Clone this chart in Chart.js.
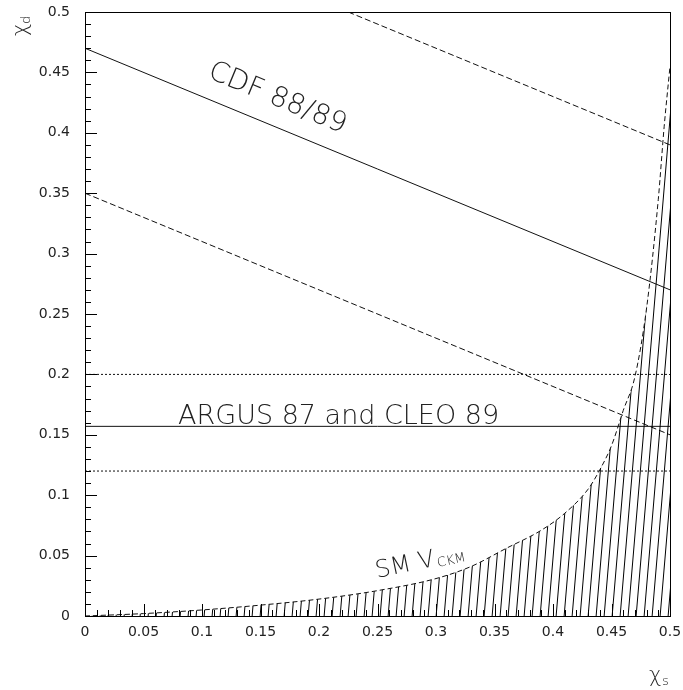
<!DOCTYPE html>
<html>
<head>
<meta charset="utf-8">
<script src="https://cdn.jsdelivr.net/npm/chart.js@4.4.1/dist/chart.umd.min.js"></script>
<style>
  html, body { margin: 0; padding: 0; background: #fff; }
  #wrap { width: 683px; height: 690px; }
</style>
</head>
<body>
<div id="wrap"><canvas id="chart" width="683" height="690"></canvas></div>
<script>
// tick values and labels
const xTickValues = [0, 0.05, 0.1, 0.15, 0.2, 0.25, 0.3, 0.35, 0.4, 0.45, 0.5]
const xTickLabels = ['0', '0.05', '0.1', '0.15', '0.2', '0.25', '0.3', '0.35', '0.4', '0.45', '0.5']
const yTickValues = [0, 0.05, 0.1, 0.15, 0.2, 0.25, 0.3, 0.35, 0.4, 0.45, 0.5]
const yTickLabels = ['0', '0.05', '0.1', '0.15', '0.2', '0.25', '0.3', '0.35', '0.4', '0.45', '0.5']

// SM V_CKM curve (chi_s, chi_d)
const smChiS = [0, 0.05, 0.1, 0.15, 0.2, 0.25, 0.3, 0.33, 0.36, 0.39, 0.41, 0.43, 0.44, 0.45, 0.46, 0.47, 0.48, 0.49, 0.495, 0.5]
const smChiD = [0, 0.002, 0.005, 0.009, 0.014, 0.021, 0.031, 0.041, 0.056, 0.071, 0.085, 0.105, 0.121, 0.141, 0.17, 0.198, 0.255, 0.345, 0.405, 0.455]

// CDF 88/89 band
const cdfChiS = [0, 0.5]
const cdfCentral = [0.47, 0.27]
const cdfLower = [0.35, 0.15]
const cdfUpperChiS = [0.225, 0.5]
const cdfUpper = [0.5, 0.39]

// ARGUS 87 and CLEO 89 band
const argusChiS = [0, 0.5]
const argusCentral = [0.157, 0.157]
const argusLower = [0.12, 0.12]
const argusUpper = [0.2, 0.2]

const ink = '#111'
const textInk = '#222'
const font = "'DejaVu Sans', sans-serif"

const pts = (xs, ys) => xs.map((x, i) => ({ x, y: ys[i] }))

function hatchPattern () {
  const w = 8
  const h = 95
  const c = document.createElement('canvas')
  c.width = w
  c.height = h
  const g = c.getContext('2d')
  g.strokeStyle = '#000'
  g.lineWidth = 1
  g.beginPath()
  for (let k = -1; k <= 1; k++) {
    g.moveTo(k * w - w, 2 * h)
    g.lineTo(k * w + 2 * w, -h)
  }
  g.stroke()
  return g.createPattern(c, 'repeat')
}

const frame = {
  id: 'frame',
  afterDraw (chart) {
    const { ctx, chartArea: a, scales: { x, y } } = chart
    ctx.save()
    ctx.strokeStyle = '#000'
    ctx.lineWidth = 1
    ctx.strokeRect(a.left + 0.5, a.top + 0.5, a.right - a.left, a.bottom - a.top)
    ctx.beginPath()
    for (let i = 0; i <= 50; i++) {
      const len = i % 5 === 0 ? 12 : 6
      const px = Math.round(x.getPixelForValue(i / 100)) + 0.5
      ctx.moveTo(px, a.bottom)
      ctx.lineTo(px, a.bottom - len)
      const py = Math.round(y.getPixelForValue(i / 100)) + 0.5
      ctx.moveTo(a.left, py)
      ctx.lineTo(a.left + len, py)
    }
    ctx.stroke()

    // axis titles
    ctx.fillStyle = textInk
    ctx.save()
    ctx.translate(27, 36)
    ctx.rotate(-Math.PI / 2)
    ctx.font = `300 21px ${font}`
    ctx.textBaseline = 'alphabetic'
    ctx.fillText('χ', 0, 0)
    ctx.font = `300 13px ${font}`
    ctx.fillText('d', 12, 3)
    ctx.restore()

    ctx.font = `300 21px ${font}`
    ctx.fillText('χ', 649, 682)
    ctx.font = `300 13px ${font}`
    ctx.fillText('s', 662, 685)
    ctx.restore()
  }
}

const labels = {
  id: 'labels',
  afterDatasetsDraw (chart) {
    const { ctx, scales: { x, y } } = chart
    ctx.save()
    ctx.fillStyle = textInk
    ctx.textBaseline = 'alphabetic'

    // CDF label along its line
    const ang = Math.atan2(
      y.getPixelForValue(cdfCentral[1]) - y.getPixelForValue(cdfCentral[0]),
      x.getPixelForValue(cdfChiS[1]) - x.getPixelForValue(cdfChiS[0]))
    ctx.save()
    ctx.translate(x.getPixelForValue(0.104), y.getPixelForValue(0.446))
    ctx.rotate(ang)
    ctx.font = `200 28px ${font}`
    ctx.fillText('CDF 88/89', 0, 0)
    ctx.restore()

    // ARGUS label on its line
    ctx.font = `200 27px ${font}`
    ctx.fillText('ARGUS 87 and CLEO 89', x.getPixelForValue(0.0795), y.getPixelForValue(argusCentral[0]) - 2)

    // SM V_CKM label
    ctx.save()
    ctx.translate(x.getPixelForValue(0.2496), y.getPixelForValue(0.0315))
    ctx.rotate(-12 * Math.PI / 180)
    ctx.font = `200 24px ${font}`
    ctx.fillText('SM V', 0, 0)
    const w = ctx.measureText('SM V').width
    ctx.font = `200 13px ${font}`
    ctx.fillText('CKM', w + 2, 2)
    ctx.restore()

    ctx.restore()
  }
}

const lineSet = (data, dash) => ({
  data,
  showLine: true,
  borderColor: ink,
  borderWidth: 1,
  borderDash: dash,
  pointRadius: 0,
  fill: false
})

new Chart(document.getElementById('chart'), {
  type: 'scatter',
  data: {
    datasets: [
      {
        data: pts(smChiS, smChiD),
        showLine: true,
        borderColor: ink,
        borderWidth: 1,
        borderDash: [5, 3],
        pointRadius: 0,
        cubicInterpolationMode: 'monotone',
        fill: 'origin',
        backgroundColor: hatchPattern()
      },
      lineSet(pts(cdfChiS, cdfCentral), []),
      lineSet(pts(cdfChiS, cdfLower), [6, 3]),
      lineSet(pts(cdfUpperChiS, cdfUpper), [6, 3]),
      lineSet(pts(argusChiS, argusCentral), []),
      lineSet(pts(argusChiS, argusLower), [2, 2]),
      lineSet(pts(argusChiS, argusUpper), [2, 2])
    ]
  },
  options: {
    responsive: false,
    animation: false,
    layout: {
      padding: { left: 0, top: 12, right: 13, bottom: 44 }
    },
    plugins: {
      legend: { display: false },
      tooltip: { enabled: false }
    },
    scales: {
      x: {
        type: 'linear',
        min: 0,
        max: 0.5,
        afterBuildTicks: scale => { scale.ticks = xTickValues.map(value => ({ value })) },
        afterFit: scale => {
          scale.height = 30
          scale.paddingLeft = 0
          scale.paddingRight = 0
        },
        grid: { display: false, drawTicks: false },
        border: { display: true, color: '#000', width: 1 },
        ticks: {
          padding: 8,
          maxRotation: 0,
          autoSkip: false,
          color: textInk,
          font: { family: font, size: 14 },
          callback: (v, i) => xTickLabels[i]
        }
      },
      y: {
        type: 'linear',
        min: 0,
        max: 0.5,
        afterBuildTicks: scale => { scale.ticks = yTickValues.map(value => ({ value })) },
        afterFit: scale => {
          scale.width = 85
          scale.paddingTop = 0
          scale.paddingBottom = 0
        },
        grid: { display: false, drawTicks: false },
        border: { display: true, color: '#000', width: 1 },
        ticks: {
          padding: 15,
          autoSkip: false,
          color: textInk,
          font: { family: font, size: 14 },
          callback: (v, i) => yTickLabels[i]
        }
      }
    }
  },
  plugins: [labels, frame]
})
</script>
</body>
</html>
